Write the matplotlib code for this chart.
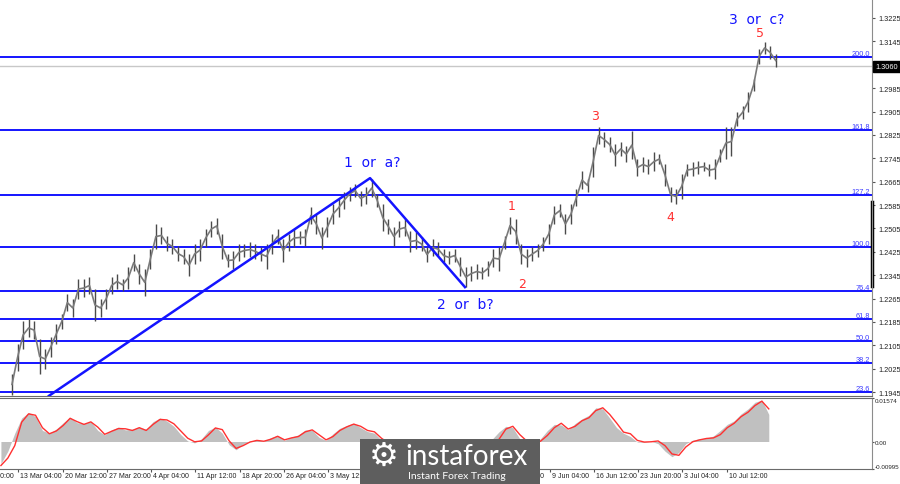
import numpy as np
import matplotlib
matplotlib.use("Agg")
import matplotlib.pyplot as plt
import matplotlib.transforms as mtransforms

# ---- price samples (every 4 H4 bars): highs and lows ----
price_hi = [1.2007, 1.2109, 1.2188, 1.2195, 1.2188, 1.2126, 1.2092, 1.2133, 1.2178, 1.2212,
            1.2280, 1.2263, 1.2332, 1.2332, 1.2339, 1.2298, 1.2263, 1.2298, 1.2339, 1.2349,
            1.2332, 1.2373, 1.2417, 1.2383, 1.2366, 1.2434, 1.2520, 1.2510, 1.2479, 1.2469,
            1.2445, 1.2434, 1.2417, 1.2452, 1.2469, 1.2503, 1.2530, 1.2541, 1.2486, 1.2417,
            1.2428, 1.2452, 1.2452, 1.2458, 1.2452, 1.2441, 1.2452, 1.2486, 1.2503, 1.2469,
            1.2486, 1.2503, 1.2496, 1.2503, 1.2578, 1.2554, 1.2510, 1.2544, 1.2588, 1.2606,
            1.2630, 1.2647, 1.2657, 1.2633, 1.2647, 1.2674, 1.2623, 1.2588, 1.2537, 1.2510,
            1.2530, 1.2537, 1.2496, 1.2493, 1.2475, 1.2441, 1.2469, 1.2458, 1.2434, 1.2428,
            1.2434, 1.2407, 1.2373, 1.2376, 1.2383, 1.2373, 1.2393, 1.2434, 1.2441, 1.2479,
            1.2544, 1.2537, 1.2452, 1.2434, 1.2441, 1.2452, 1.2475, 1.2520, 1.2582, 1.2588,
            1.2554, 1.2588, 1.2640, 1.2701, 1.2674, 1.2784, 1.2852, 1.2835, 1.2818, 1.2794,
            1.2801, 1.2787, 1.2838, 1.2742, 1.2749, 1.2742, 1.2766, 1.2760, 1.2725, 1.2647,
            1.2640, 1.2691, 1.2725, 1.2732, 1.2736, 1.2732, 1.2725, 1.2742, 1.2777, 1.2852,
            1.2852, 1.2903, 1.2924, 1.2972, 1.3016, 1.3119, 1.3143, 1.3129, 1.3102]
price_lo = [1.1935, 1.2017, 1.2092, 1.2133, 1.2126, 1.2007, 1.2024, 1.2065, 1.2109, 1.2161,
            1.2222, 1.2202, 1.2263, 1.2270, 1.2280, 1.2188, 1.2202, 1.2229, 1.2280, 1.2298,
            1.2291, 1.2298, 1.2359, 1.2315, 1.2274, 1.2366, 1.2434, 1.2452, 1.2428, 1.2417,
            1.2393, 1.2383, 1.2342, 1.2383, 1.2393, 1.2441, 1.2475, 1.2486, 1.2400, 1.2373,
            1.2366, 1.2393, 1.2407, 1.2407, 1.2400, 1.2393, 1.2366, 1.2417, 1.2452, 1.2390,
            1.2428, 1.2441, 1.2452, 1.2445, 1.2520, 1.2486, 1.2434, 1.2475, 1.2520, 1.2544,
            1.2571, 1.2599, 1.2612, 1.2582, 1.2588, 1.2612, 1.2578, 1.2496, 1.2486, 1.2445,
            1.2475, 1.2479, 1.2424, 1.2434, 1.2428, 1.2390, 1.2410, 1.2410, 1.2390, 1.2383,
            1.2390, 1.2342, 1.2304, 1.2325, 1.2332, 1.2332, 1.2342, 1.2373, 1.2359, 1.2434,
            1.2486, 1.2452, 1.2383, 1.2373, 1.2393, 1.2407, 1.2428, 1.2452, 1.2520, 1.2544,
            1.2486, 1.2520, 1.2582, 1.2640, 1.2630, 1.2681, 1.2794, 1.2784, 1.2766, 1.2718,
            1.2753, 1.2732, 1.2742, 1.2684, 1.2698, 1.2691, 1.2701, 1.2725, 1.2650, 1.2595,
            1.2588, 1.2606, 1.2684, 1.2684, 1.2691, 1.2701, 1.2684, 1.2674, 1.2732, 1.2742,
            1.2753, 1.2855, 1.2879, 1.2903, 1.2975, 1.3068, 1.3102, 1.3085, 1.3057]
bars_per_sample = 4

# ---- oscillator (every 5 bars, starting at bar -8) ----
osc_hist = [-0.0080, -0.0035, 0.0030, 0.0085, 0.0105, 0.0090, 0.0040, 0.0030, 0.0045, 0.0068,
            0.0088, 0.0068, 0.0065, 0.0072, 0.0040, 0.0024, 0.0042, 0.0052, 0.0042, 0.0044,
            0.0052, 0.0044, 0.0072, 0.0085, 0.0074, 0.0055, 0.0025, 0.0002, -0.0005, 0.0010,
            0.0040, 0.0052, 0.0030, -0.0012, -0.0030, -0.0010, 0.0002, 0.0006, 0.0002, 0.0014,
            0.0022, 0.0004, 0.0016, 0.0024, 0.0042, 0.0040, 0.0015, 0.0004, 0.0028, 0.0048,
            0.0058, 0.0066, 0.0050, 0.0036, 0.0030, 0.0005, -0.0012, -0.0020, -0.0026, -0.0030,
            -0.0030, -0.0034, -0.0036, -0.0038, -0.0040, -0.0042, -0.0040, -0.0036, -0.0028, -0.0020,
            -0.0008, 0.0008, 0.0035, 0.0055, 0.0050, 0.0010, -0.0004, -0.0003, 0.0010, 0.0040,
            0.0062, 0.0060, 0.0042, 0.0065, 0.0082, 0.0095, 0.0122, 0.0118, 0.0085, 0.0050,
            0.0030, 0.0018, -0.0002, -0.0003, 0.0001, -0.0008, -0.0035, -0.0055, -0.0040, -0.0008,
            0.0005, 0.0010, 0.0012, 0.0020, 0.0040, 0.0062, 0.0075, 0.0100, 0.0118, 0.0142,
            0.0150, 0.0098]
osc_signal = [-0.0087, -0.0060, -0.0015, 0.0070, 0.0100, 0.0095, 0.0050, 0.0028, 0.0038, 0.0058,
              0.0084, 0.0072, 0.0062, 0.0071, 0.0052, 0.0026, 0.0037, 0.0047, 0.0046, 0.0040,
              0.0050, 0.0040, 0.0062, 0.0080, 0.0078, 0.0064, 0.0038, 0.0012, -0.0001, 0.0002,
              0.0024, 0.0049, 0.0043, 0.0002, -0.0025, -0.0015, -0.0002, 0.0004, 0.0001, 0.0008,
              0.0019, 0.0006, 0.0013, 0.0018, 0.0035, 0.0042, 0.0024, 0.0006, 0.0018, 0.0040,
              0.0053, 0.0063, 0.0055, 0.0040, 0.0035, 0.0012, -0.0005, -0.0015, -0.0022, -0.0028,
              -0.0030, -0.0032, -0.0035, -0.0036, -0.0038, -0.0040, -0.0041, -0.0040, -0.0035, -0.0028,
              -0.0018, -0.0008, 0.0008, 0.0045, 0.0055, 0.0025, 0.0002, -0.0004, 0.0001, 0.0022,
              0.0050, 0.0066, 0.0045, 0.0055, 0.0075, 0.0086, 0.0112, 0.0122, 0.0098, 0.0067,
              0.0034, 0.0028, 0.0004, -0.0002, -0.0001, 0.0002, -0.0015, -0.0045, -0.0050, -0.0020,
              -0.0001, 0.0006, 0.0011, 0.0013, 0.0025, 0.0050, 0.0066, 0.0090, 0.0106, 0.0130,
              0.0146, 0.0118]
osc_start, osc_step = -8, 5

# ---- fibonacci levels ----
fib_labels = ["200.0", "161.8", "127.2", "100.0", "76.4", "61.8", "50.0", "38.2", "23.6"]
fib_prices = [1.3091, 1.2843, 1.2619, 1.2442, 1.2292, 1.2195, 1.2121, 1.2044, 1.1946]

# ---- wave lines (bar, price) ----
wave_bars = [26.7, 258.8, 327.4]
wave_prices = [1.1932, 1.2677, 1.2304]

price_ticks = [1.3225, 1.3145, 1.2985, 1.2905, 1.2825, 1.2745, 1.2665, 1.2585,
               1.2505, 1.2425, 1.2345, 1.2265, 1.2185, 1.2105, 1.2025, 1.1945]
last_price = 1.3060

time_labels = ["6 Mar 20:00", "13 Mar 04:00", "20 Mar 12:00", "27 Mar 20:00", "4 Apr 04:00",
               "11 Apr 12:00", "18 Apr 20:00", "26 Apr 04:00", "3 May 12:00", "10 May 20:00",
               "18 May 04:00", "25 May 12:00", "1 Jun 20:00", "9 Jun 04:00", "16 Jun 12:00",
               "23 Jun 20:00", "3 Jul 04:00", "10 Jul 12:00"]
time_first_bar, time_step = -27.45, 32

BLUE = "#1414ff"
RED = "#ff3030"
AXFONT = "Liberation Sans"

W, H = 900, 485
fig = plt.figure(figsize=(W / 100, H / 100), dpi=100)
fig.patch.set_facecolor("white")

x0, x1 = -8.67, 621.6
ax = fig.add_axes([0, 1 - 397 / H, 872 / W, 397 / H])
ax2 = fig.add_axes([0, 1 - 470 / H, 872 / W, 71 / H])

for a in (ax, ax2):
    a.set_xlim(x0, x1)
    a.set_xticks([])
    a.spines["left"].set_visible(False)
    a.spines["top"].set_visible(False)
    a.spines["right"].set_color("#8c8c8c")
    a.spines["bottom"].set_color("#6a6a6a")
    a.yaxis.tick_right()
    a.tick_params(axis="y", length=2.5, width=0.8, color="#555555", pad=2,
                  labelsize=5.3, labelcolor="#222222")

ax.set_ylim(1.19314, 1.3290)
ax2.set_ylim(-0.00995, 0.01574)
ax2.spines["top"].set_visible(True)
ax2.spines["top"].set_color("#6a6a6a")
ax2.tick_params(axis="y", length=1.5, pad=0.5, labelsize=4.5)

# price bars
hi = np.array(price_hi)
lo = np.array(price_lo)
xb = np.arange(len(hi)) * bars_per_sample
ax.vlines(xb, lo, hi, color="#4a4a4a", lw=1.0, zorder=3)
ax.plot(xb, (hi + lo) / 2, color="#7a7a7a", lw=1.2, zorder=3)

# fib lines and labels
ytrans = mtransforms.blended_transform_factory(ax.transAxes, ax.transData)
for lab, p in zip(fib_labels, fib_prices):
    ax.axhline(p, color=BLUE, lw=1.4, zorder=2)
    ax.text(0.998, p, lab, transform=ytrans, ha="right", va="bottom",
            fontsize=5.3, color="#3a3aff", family=AXFONT, zorder=5)

# current price line
ax.axhline(last_price, color="#c8c8c8", lw=1.0, zorder=1)

# wave lines
ax.plot(wave_bars, wave_prices, color=BLUE, lw=1.8, zorder=4)

# wave labels
ax.text(538.5, 1.3222, "3  or  c?", color=BLUE, fontsize=10, ha="center", va="center")
ax.text(260.2, 1.2732, "1  or  a?", color=BLUE, fontsize=10, ha="center", va="center")
ax.text(327.4, 1.2246, "2  or  b?", color=BLUE, fontsize=10, ha="center", va="center")
for t, bx, py in [("5", 540.6, 1.3174), ("3", 421.4, 1.2890), ("1", 361.4, 1.2582),
                  ("2", 368.6, 1.2315), ("4", 475.6, 1.2544)]:
    ax.text(bx, py, t, color=RED, fontsize=9, ha="center", va="center")

ax.set_yticks(price_ticks)
ax.set_yticklabels([f"{v:.4f}" for v in price_ticks], family=AXFONT)
ax.text(1.004, last_price, f"{last_price:.4f}", transform=ytrans,
        ha="left", va="center", fontsize=5.3, color="white", family=AXFONT,
        bbox=dict(boxstyle="square,pad=0.3", fc="black", ec="black"))
# dark strip on the price scale
ax.plot([1.0, 1.0], [1 - 287 / 397, 1 - 203 / 397], transform=ax.transAxes,
        color="black", lw=2.5, clip_on=False)

# oscillator
ox = osc_start + np.arange(len(osc_hist)) * osc_step
ax2.fill_between(ox, 0, osc_hist, color="#c0c0c0", lw=0, zorder=2)
ax2.plot(ox, osc_signal, color=RED, lw=1.0, zorder=3)
ax2.set_yticks([0.01574, 0.0, -0.00995])
ax2.set_yticklabels(["0.01574", "0.00", "-0.00995"], family=AXFONT)
osc_labels = ax2.get_yticklabels()
osc_labels[0].set_verticalalignment("top")
osc_labels[2].set_verticalalignment("bottom")

# time axis
tb = time_first_bar + np.arange(len(time_labels)) * time_step
ax2.set_xticks([b for b in tb if b >= x0])
ax2.set_xticklabels([])
ax2.tick_params(axis="x", length=2.5, width=0.8, color="#555555")
px_per_bar = 872 / (x1 - x0)
logo_left, logo_right = 360, 540
for b, lab in zip(tb, time_labels):
    px = (b - x0) * px_per_bar
    if logo_left < px and px + 38 < logo_right:
        continue  # fully covered by the logo box
    fig.text((px + 2) / W, 1 - 477 / H, lab, ha="left", va="center", fontsize=5.0,
             color="#222222", family=AXFONT)

# logo box
fig.patches.append(plt.Rectangle((logo_left / W, 0), (logo_right - logo_left) / W, 45 / H,
                                 transform=fig.transFigure, fc="#5e5e5e", ec="none", zorder=10))
fig.text(384 / W, 1 - 456 / H, "\u2699", color="white", fontsize=24, ha="center", va="center",
         family="DejaVu Sans", zorder=11)
fig.text(405 / W, 1 - 457 / H, "instaforex", color="white", fontsize=20, ha="left", va="center",
         family="Lato", zorder=11)
fig.text(408 / W, 1 - 477 / H, "Instant Forex Trading", color="white", fontsize=7.5, ha="left",
         va="center", family="Lato", zorder=11)

fig.savefig("out.png", dpi=100)
